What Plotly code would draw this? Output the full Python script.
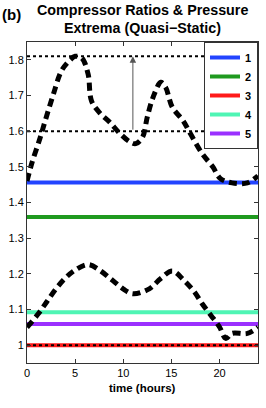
import plotly.graph_objects as go

# ---- data ----
hours = [0, 0.5, 1.35, 1.9, 2.7, 3.6, 4.5, 5.0, 5.7, 6.35, 6.7, 7.6, 8.6, 9.6, 10.7, 11.3, 12.0, 12.5, 13.1, 13.9, 14.4, 15.1, 16.2, 17.0, 18.2, 19.3, 20.1, 21.3, 22.9, 24]
upper_extrema = [1.46, 1.51, 1.58, 1.63, 1.70, 1.77, 1.80, 1.81, 1.805, 1.76, 1.685, 1.65, 1.625, 1.595, 1.57, 1.565, 1.583, 1.64, 1.695, 1.737, 1.723, 1.667, 1.63, 1.592, 1.537, 1.50, 1.467, 1.455, 1.455, 1.475]

hours_low = [0, 1.17, 2.04, 2.9, 3.94, 4.97, 6.35, 7.56, 8.78, 9.98, 11.0, 12.7, 13.9, 15.1, 16.3, 17.4, 18.2, 19.1, 20.0, 20.65, 21.3, 22.9, 24]
lower_extrema = [1.05, 1.088, 1.121, 1.154, 1.187, 1.21, 1.226, 1.21, 1.184, 1.158, 1.144, 1.158, 1.187, 1.208, 1.182, 1.149, 1.116, 1.084, 1.051, 1.019, 1.033, 1.033, 1.05]

ratio_names = ["1", "2", "3", "4", "5"]
ratio_values = [1.456, 1.359, 1.0, 1.092, 1.059]
ratio_colors = ["#2244ff", "#1f9a1f", "#ff1a1a", "#4ff5b4", "#9b30ff"]

bound_max = 1.81
bound_min = 1.6
bound_low = 1.0
t_range = [0, 24]

xticks = [0, 5, 10, 15, 20]
yticks = [1.0, 1.1, 1.2, 1.3, 1.4, 1.5, 1.6, 1.7, 1.8]
yticklabels = ["1", "1.1", "1.2", "1.3", "1.4", "1.5", "1.6", "1.7", "1.8"]

fig = go.Figure()

# compressor ratio lines
for name, val, col in zip(ratio_names, ratio_values, ratio_colors):
    fig.add_trace(go.Scatter(x=t_range, y=[val, val], mode="lines", name=name,
                             line=dict(color=col, width=4)))

# dotted bounds
for b in [bound_max, bound_min, bound_low]:
    fig.add_trace(go.Scatter(x=t_range, y=[b, b], mode="lines", showlegend=False,
                             line=dict(color="black", width=2, dash="dot")))

# dashed extrema curves
fig.add_trace(go.Scatter(x=hours, y=upper_extrema, mode="lines", showlegend=False,
                         line=dict(color="black", width=5, dash="8px,5px", shape="spline")))
fig.add_trace(go.Scatter(x=hours_low, y=lower_extrema, mode="lines", showlegend=False,
                         line=dict(color="black", width=5, dash="8px,5px", shape="spline")))

# arrow
fig.add_annotation(x=11, y=bound_max, ax=11, ay=bound_min, xref="x", yref="y",
                   axref="x", ayref="y", showarrow=True, arrowhead=2, arrowsize=1.3,
                   arrowwidth=1, arrowcolor="#555555", text="")

# titles
fig.add_annotation(text="<b>Compressor Ratios & Pressure</b>", xref="paper", yref="paper",
                   x=0.5, y=1, yshift=32, showarrow=False, yanchor="middle",
                   font=dict(size=14.3, color="black"))
fig.add_annotation(text="<b>Extrema (Quasi\u2212Static)</b>", xref="paper", yref="paper",
                   x=0.5, y=1, yshift=14, showarrow=False, yanchor="middle",
                   font=dict(size=14.3, color="black"))
fig.add_annotation(text="<b>(b)</b>", xref="paper", yref="paper",
                   x=0, y=1, xshift=-27, yshift=28, showarrow=False, xanchor="left",
                   yanchor="middle", font=dict(size=15, color="black"))
fig.add_annotation(text="<b>time (hours)</b>", xref="paper", yref="paper",
                   x=0.5, y=0, yshift=-25, showarrow=False, yanchor="middle",
                   font=dict(size=11.5, color="black"))

axis_common = dict(showline=True, linecolor="#333333", linewidth=1, mirror="ticks",
                   ticks="inside", ticklen=4, tickcolor="#333333", showgrid=False,
                   zeroline=False, automargin=False, tickfont=dict(size=11, color="black"))

fig.update_xaxes(range=[0, 24], tickvals=xticks, **axis_common)
fig.update_yaxes(range=[0.95, 1.85], tickvals=yticks, ticktext=yticklabels, **axis_common)

fig.update_layout(
    width=266, height=408,
    margin=dict(l=27, r=8, t=42, b=45),
    paper_bgcolor="white", plot_bgcolor="white",
    font=dict(family="Liberation Sans, Arial, sans-serif", color="black"),
    showlegend=True,
    legend=dict(x=1, y=1, xanchor="right", yanchor="top", bgcolor="white",
                bordercolor="#333333", borderwidth=1,
                font=dict(size=11, weight="bold"),
                tracegroupgap=0, itemwidth=30),
)

fig.write_html("out.html", config={"displayModeBar": False},
               post_script="document.body.style.margin='0';")
